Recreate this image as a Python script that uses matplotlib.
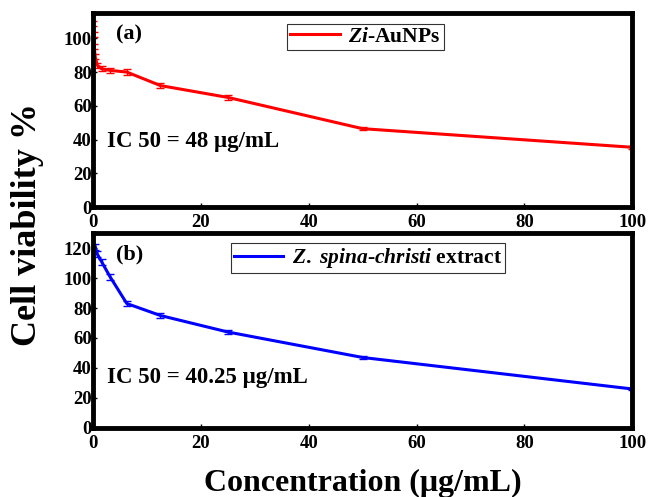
import matplotlib
matplotlib.use("Agg")
import matplotlib.pyplot as plt
from matplotlib.lines import Line2D

plt.rcParams['font.family'] = ['Liberation Serif', 'DejaVu Serif']
plt.rcParams['font.weight'] = 'bold'
plt.rcParams['mathtext.fontset'] = 'custom'
plt.rcParams['mathtext.it'] = 'Liberation Serif:italic:bold'
plt.rcParams['mathtext.rm'] = 'Liberation Serif:bold'

# Panel (a) Zi-AuNPs
conc_a = [0.05, 0.1, 0.2, 0.39, 0.78, 1.56, 3.125, 6.25, 12.5, 25, 50, 100]
via_a = [109, 102, 95, 89, 84, 82, 81, 80, 72, 65, 46.5, 35.5]
err_a = [1.5, 1.5, 1.5, 1.5, 1.5, 1.5, 1.5, 1.8, 1.5, 1.5, 1.0, 0.8]

# Panel (b) Z. spina-christi extract
conc_b = [0.39, 0.78, 1.56, 3.125, 6.25, 12.5, 25, 50, 100]
via_b = [121, 116, 111, 101, 83, 75, 64, 47, 26]
err_b = [2, 2, 2, 2, 1.5, 1.5, 1.2, 0.8, 0.8]

xticks = [0, 20, 40, 60, 80, 100]
yticks_a = [0, 20, 40, 60, 80, 100]
yticks_b = [0, 20, 40, 60, 80, 100, 120]

label_a = r'$\it{Zi}$-AuNPs'
label_b = r'$\it{Z.}$ $\it{spina}$-$\it{christi}$ extract'

fig = plt.figure(figsize=(6.51, 4.97), dpi=100)
ax_a = fig.add_axes([0.143, 0.583, 0.828, 0.391])
ax_b = fig.add_axes([0.143, 0.139, 0.828, 0.392])

def style(ax, ylim, yticks):
    ax.set_xlim(0, 100)
    ax.set_ylim(*ylim)
    ax.set_xticks(xticks)
    ax.set_yticks(yticks)
    for s in ax.spines.values():
        s.set_linewidth(3.5)
    ax.tick_params(direction='in', length=3, width=1, labelsize=13.5, pad=1)
    ax.tick_params(axis='x', pad=5)
    for lab in ax.get_xticklabels() + ax.get_yticklabels():
        lab.set_fontweight('bold')

def add_legend(ax, color, label, x, y):
    h = Line2D([], [], color=color, lw=2.2)
    leg = ax.legend([h], [label], loc='upper center', bbox_to_anchor=(x, y), fontsize=15.5,
                    frameon=True, fancybox=False, edgecolor='black', handlelength=2.3,
                    borderpad=0.15, handletextpad=0.4, borderaxespad=0)
    leg.get_frame().set_linewidth(0.8)

ax_a.errorbar(conc_a, via_a, yerr=err_a, color='#ff0000', lw=2.2, capsize=3,
              elinewidth=1, capthick=1)
style(ax_a, (0, 115), yticks_a)
add_legend(ax_a, '#ff0000', label_a, 0.505, 0.945)
ax_a.text(0.043, 0.89, '(a)', transform=ax_a.transAxes, fontsize=16, fontweight='bold', va='center')
ax_a.text(0.025, 0.34, 'IC 50 = 48 μg/mL', transform=ax_a.transAxes, fontsize=16.5,
          fontweight='bold', va='center')

ax_b.errorbar(conc_b, via_b, yerr=err_b, color='#0000ff', lw=2.2, capsize=3,
              elinewidth=1, capthick=1)
style(ax_b, (0, 130), yticks_b)
add_legend(ax_b, '#0000ff', label_b, 0.51, 0.95)
ax_b.text(0.043, 0.89, '(b)', transform=ax_b.transAxes, fontsize=16, fontweight='bold', va='center')
ax_b.text(0.025, 0.26, 'IC 50 = 40.25 μg/mL', transform=ax_b.transAxes, fontsize=16.5,
          fontweight='bold', va='center')

fig.text(0.043, 0.549, 'Cell viability %', rotation=90, fontsize=26, fontweight='bold',
         ha='center', va='center')
fig.text(0.557, 0.027, 'Concentration (μg/mL)', fontsize=23, fontweight='bold',
         ha='center', va='center')

fig.savefig('out.png', dpi=100)
